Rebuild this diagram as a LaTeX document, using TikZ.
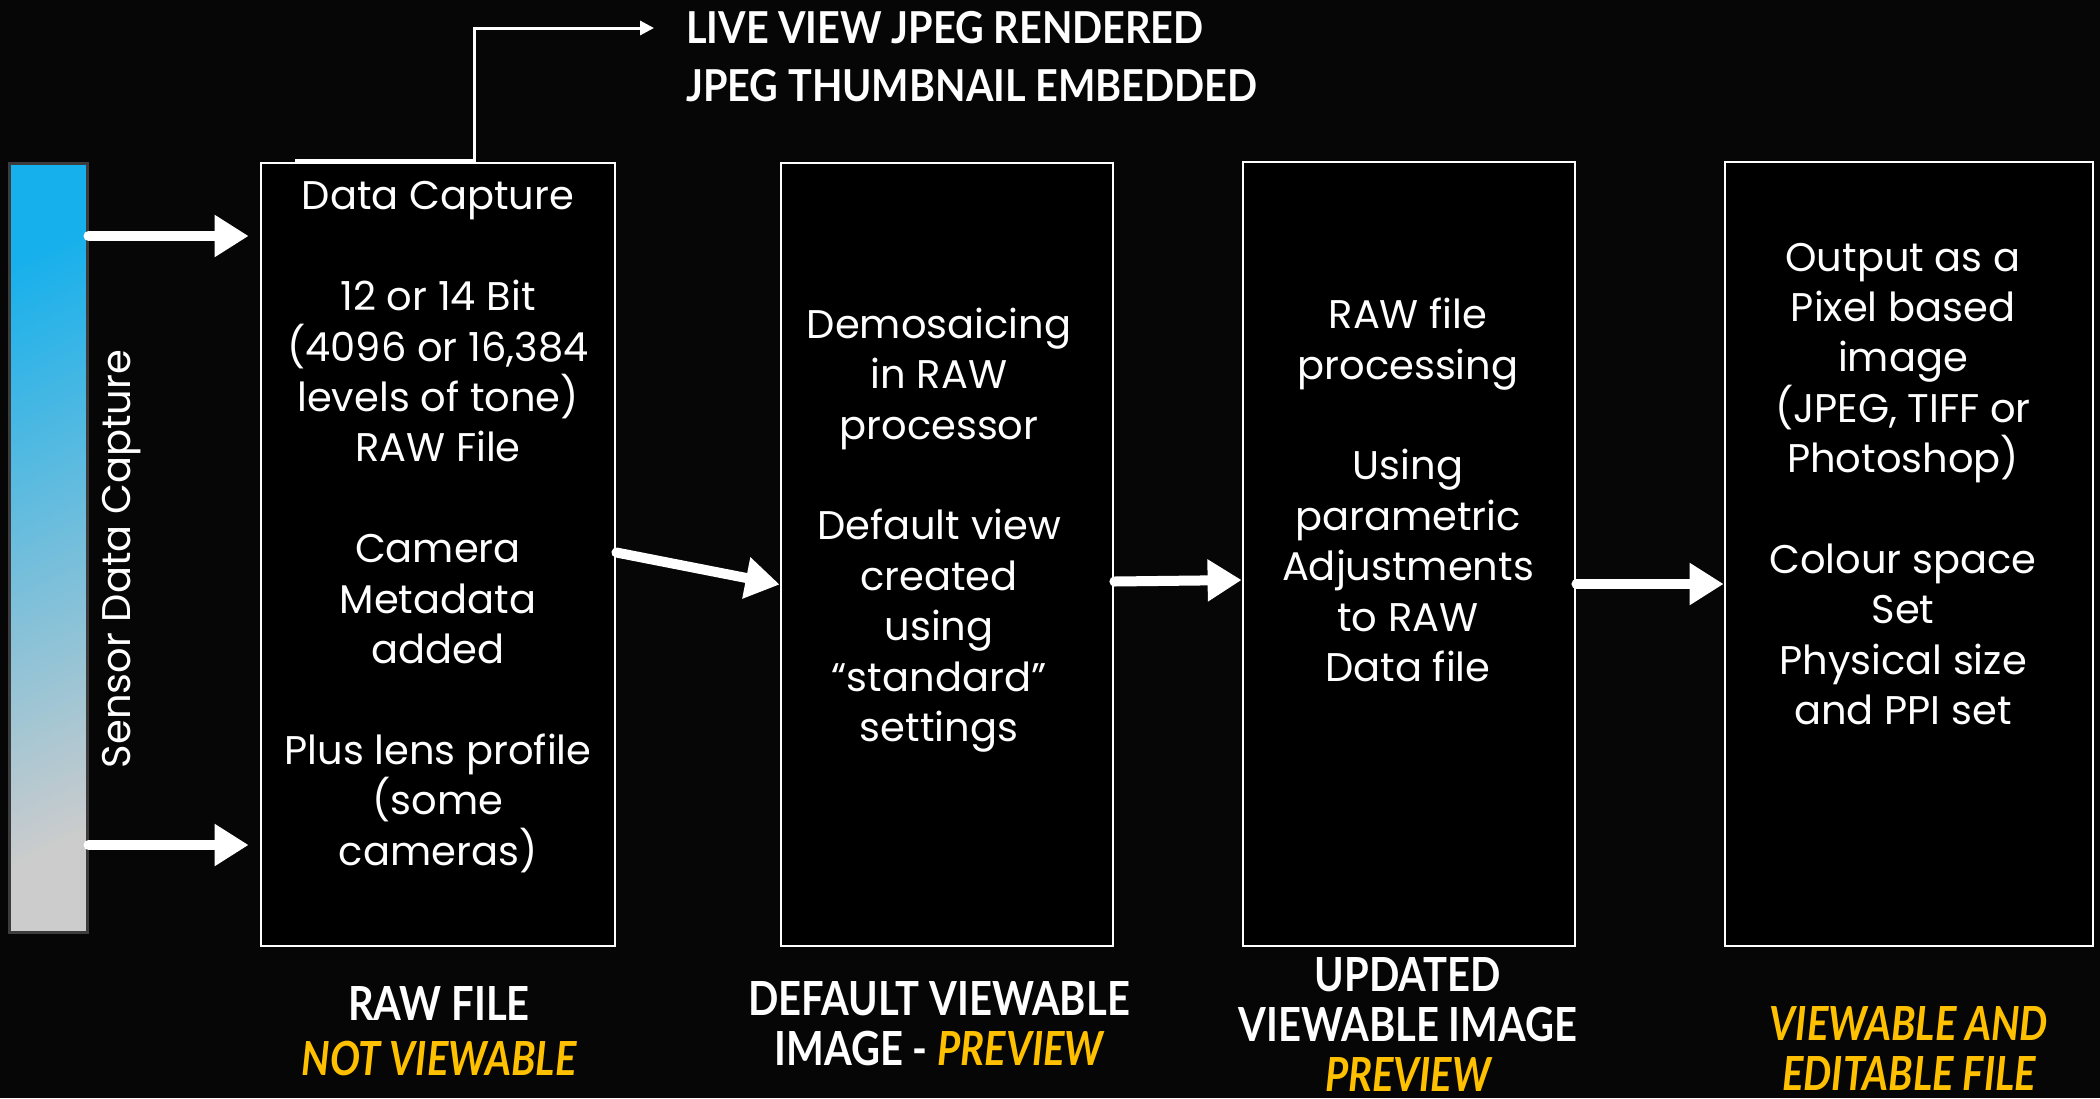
\documentclass[tikz,border=0pt]{standalone}
\usepackage{fontspec}
\setmainfont{Poppins}
\newfontfamily\cond[FakeStretch=0.9]{Lato}
\newfontfamily\condb[FakeStretch=0.85]{Lato}
\usetikzlibrary{arrows.meta}
\definecolor{gold}{RGB}{255,192,0}
\definecolor{sblue}{RGB}{22,176,236}
\definecolor{sgray}{RGB}{204,204,204}
\definecolor{bgdark}{RGB}{6,6,6}
\begin{document}
\begin{tikzpicture}[x=1pt,y=-1pt,
  stage/.style={draw=white,line width=2.8pt,fill=black,inner sep=0pt},
  body/.style={text=white,align=center,inner sep=0pt,font=\fontsize{40}{50.4}\selectfont},
  fat/.style={draw=white,line width=10pt,line cap=round,-{Triangle[length=34pt,width=40pt]}},
  thinarrow/.style={draw=white,line width=3pt,-{Triangle[length=14pt,width=14pt]}},
  lab/.style={text=white,align=center,inner sep=0pt,font=\condb\bfseries\fontsize{47}{50}\selectfont},
  toplab/.style={text=white,anchor=west,inner sep=0pt,font=\cond\bfseries\fontsize{44}{50}\selectfont}]
\useasboundingbox (0,0) rectangle (2100,1098);
\fill[bgdark] (0,0) rectangle (2100,1098);

% sensor bar
\node[draw={rgb,255:red,60;green,60;blue,60},line width=3pt,minimum width=78pt,minimum height=769pt,
  inner sep=0pt,top color=sblue,bottom color=sgray,shading angle=25] (sensor) at (48,547.5) {};
\node[body,rotate=90] (stext) at (122,559) {Sensor Data Capture};

% stage boxes
\node[stage,minimum width=354pt,minimum height=783pt] (b1) at (438,554.5) {};
\node[stage,minimum width=332pt,minimum height=783pt] (b2) at (947,554.5) {};
\node[stage,minimum width=332pt,minimum height=784pt] (b3) at (1409,554) {};
\node[stage,minimum width=368pt,minimum height=784pt] (b4) at (1909,554) {};

% box texts
\node[body] (t1) at (438,527) {Data Capture\\[50.4pt]12 or 14 Bit\\(4096 or 16,384\\levels of tone)\\RAW File\\[50.4pt]Camera\\Metadata\\added\\[50.4pt]Plus lens profile\\(some\\cameras)};
\node[body] (t2) at (939,530) {Demosaicing\\in RAW\\processor\\[50.4pt]Default view\\created\\using\\“standard”\\settings};
\node[body] (t3) at (1408,490) {RAW file\\processing\\[50.4pt]Using\\parametric\\Adjustments\\to RAW\\Data file};
\node[body] (t4) at (1903,484) {Output as a\\Pixel based\\image\\(JPEG, TIFF or\\Photoshop)\\[50.4pt]Colour space\\Set\\Physical size\\and PPI set};

% sensor arrows
\draw[fat,shorten >=11pt] (sensor.east |- 0,236) -- (b1.west |- 0,236);
\draw[fat,shorten >=11pt] (sensor.east |- 0,845) -- (b1.west |- 0,845);

% stage arrows
\draw[fat] ([yshift=2pt]b1.east) -- ([yshift=-30pt]b2.west);
\draw[fat] ([yshift=-27pt]b2.east) -- ([yshift=-26pt]b3.west);
\draw[fat] ([yshift=-30pt]b3.east) -- ([yshift=-30pt]b4.west);

% top labels and connector
\node[toplab] (live) at (686,28) {LIVE VIEW JPEG RENDERED};
\node[toplab] (thumb) at (686,86) {JPEG THUMBNAIL EMBEDDED};
\coordinate (tl) at (295,160);
\coordinate (tc) at (474,160);
\draw[thinarrow,shorten >=32pt] (tl) -- (tc) |- (live.west);

% bottom labels
\node[lab] (l1) at (439,1031) {RAW FILE\\[5pt]\color{gold}\itshape NOT VIEWABLE};
\node[lab] (l2) at (939,1024) {DEFAULT VIEWABLE\\IMAGE - {\color{gold}\itshape PREVIEW}};
\node[lab] (l3) at (1408,1024) {UPDATED\\VIEWABLE IMAGE\\{\color{gold}\itshape PREVIEW}};
\node[lab] (l4) at (1909,1048) {\color{gold}\itshape VIEWABLE AND\\\color{gold}\itshape EDITABLE FILE};
\end{tikzpicture}
\end{document}
